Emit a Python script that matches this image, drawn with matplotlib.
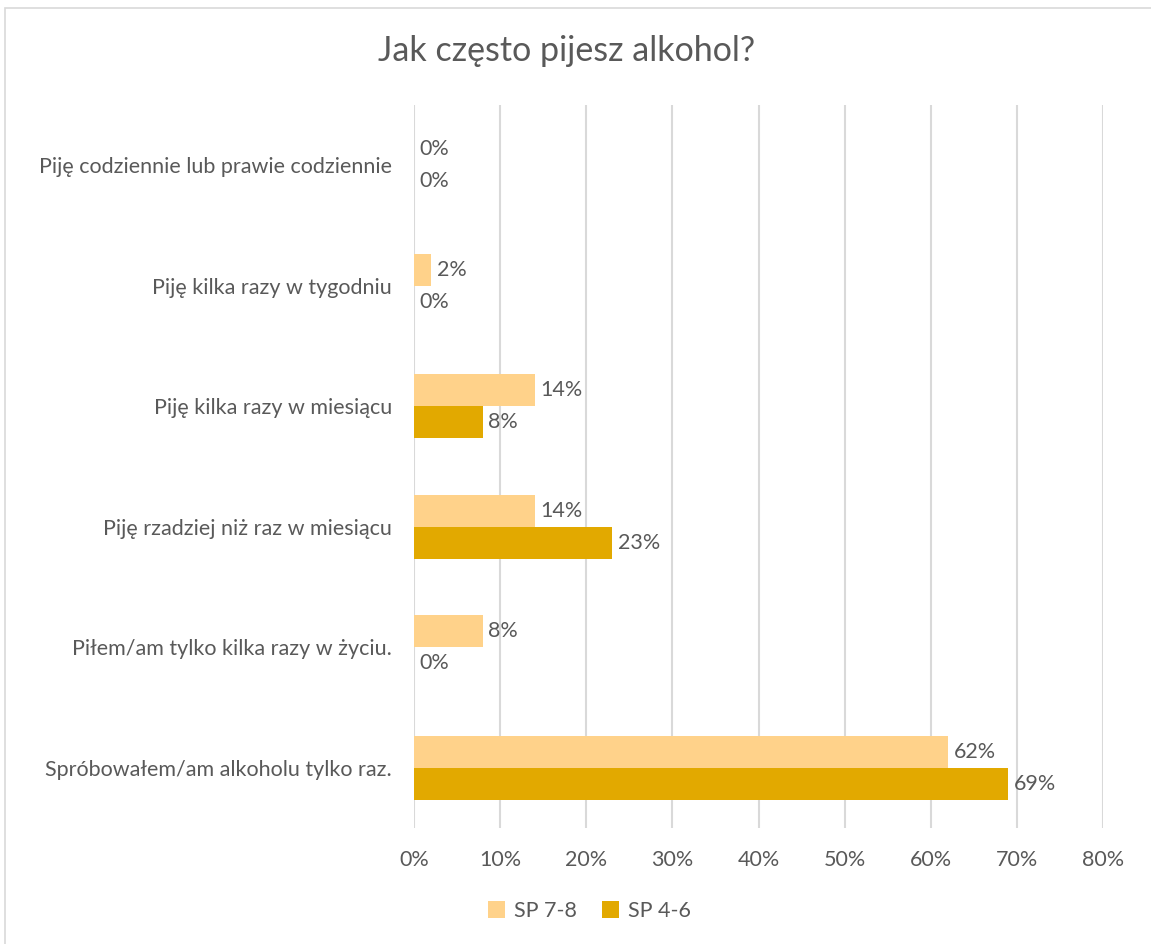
import matplotlib.pyplot as plt
import numpy as np
from matplotlib.patches import Rectangle

plt.rcParams['font.family'] = ['Lato', 'DejaVu Sans']

categories = [
    "Piję codziennie lub prawie codziennie",
    "Piję kilka razy w tygodniu",
    "Piję kilka razy w miesiącu",
    "Piję rzadziej niż raz w miesiącu",
    "Piłem/am tylko kilka razy w życiu.",
    "Spróbowałem/am alkoholu tylko raz.",
]
sp78 = [0, 2, 14, 14, 8, 62]
sp46 = [0, 0, 8, 23, 0, 69]
series_names = ["SP 7-8", "SP 4-6"]
colors = ["#FFD28A", "#E2A900"]
text_color = "#595959"

fig = plt.figure(figsize=(11.51, 9.44), dpi=100)
ax = fig.add_axes([0.3597, 0.123, 0.5986, 0.766])

y = np.arange(len(categories))
h = 0.265
b1 = ax.barh(y - h / 2, sp78, height=h, color=colors[0], label=series_names[0])
b2 = ax.barh(y + h / 2, sp46, height=h, color=colors[1], label=series_names[1])

for bars, vals in ((b1, sp78), (b2, sp46)):
    for rect, v in zip(bars, vals):
        ax.annotate(f"{v}%", xy=(v, rect.get_y() + rect.get_height() / 2),
                    xytext=(4, 0), textcoords="offset points",
                    ha="left", va="center", fontsize=15.5, color=text_color)

ax.set_xlim(0, 80)
ax.set_ylim(len(categories) - 0.5, -0.5)
ax.set_xticks(np.arange(0, 81, 10))
ax.set_xticklabels([f"{t}%" for t in range(0, 81, 10)])
ax.set_yticks(y)
ax.set_yticklabels(categories)
ax.tick_params(axis="both", length=0, labelsize=15.5, colors=text_color)
ax.tick_params(axis="x", pad=16)
ax.tick_params(axis="y", pad=16)
ax.grid(axis="x", color="#D9D9D9", linewidth=1.5)
ax.set_axisbelow(True)
for s in ax.spines.values():
    s.set_visible(False)

fig.text(0.492, 0.946, "Jak często pijesz alkohol?", ha="center", va="center",
         fontsize=24.5, color=text_color)

fig.legend(loc="center", bbox_to_anchor=(0.512, 0.035), ncol=2, frameon=False,
           fontsize=15.5, labelcolor=text_color, handlelength=0.8, handleheight=0.8,
           handletextpad=0.4, columnspacing=1.2)

fig.patches.append(Rectangle((0.004, -0.01), 1.0, 1.0 - 0.0085 + 0.01,
                             transform=fig.transFigure, fill=False,
                             edgecolor="#D9D9D9", linewidth=1.2))

fig.savefig("out.png", dpi=100)
